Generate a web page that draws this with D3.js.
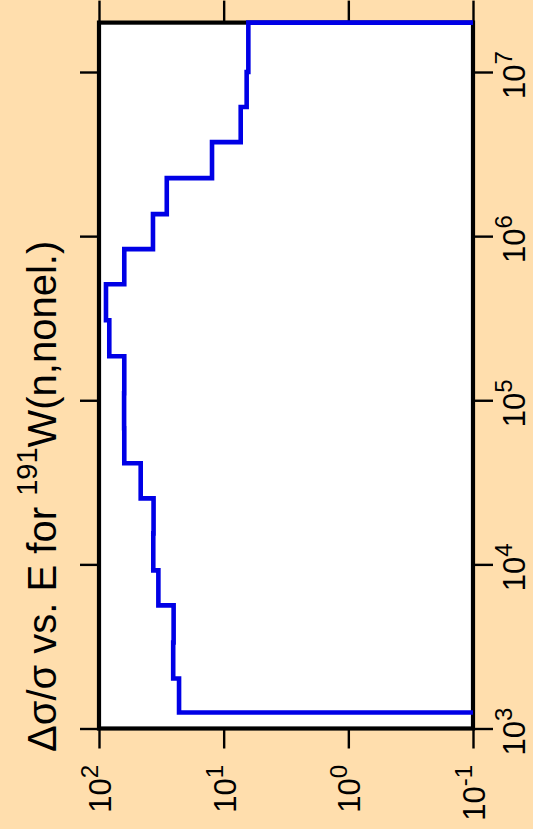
<!DOCTYPE html>
<html>
<head>
<meta charset="utf-8">
<script src="https://cdn.jsdelivr.net/npm/d3@7"></script>
<style>
  html, body { margin: 0; padding: 0; background: #FFDEAD; }
  svg { display: block; }
  text { font-family: "Liberation Sans", Arial, Helvetica, sans-serif; fill: #000; }
</style>
</head>
<body>
<svg id="chart" width="533" height="829"></svg>
<script>
// Energy bin edges (eV) and relative uncertainty per bin
const energyEdges = [1252, 2018, 3345, 5623, 9190, 15450, 25250, 41300, 67500, 110400,
                     185400, 307400, 509600, 833600, 1.362e6, 2.258e6, 3.74e6, 6.12e6, 1e7, 2e7];
const relUncertainty = [22.8, 25.4, 25.2, 33.4, 36.7, 36.5, 46.3, 62.7, 62.9, 62.7,
                        82.7, 87.9, 62.7, 36.9, 28.6, 12.4, 7.30, 6.54, 6.34];
const energyTicks = [1e3, 1e4, 1e5, 1e6, 1e7];
const energyTickExp = ["3", "4", "5", "6", "7"];
const valueTicks = [100, 10, 1, 0.1];
const valueTickExp = ["2", "1", "0", "-1"];
const titleParts = ["Δσ/σ vs. E for ", "191", "W(n,nonel.)"];

const svg = d3.select("#chart");
const W = 533, H = 829;
svg.append("rect").attr("width", W).attr("height", H).attr("fill", "#FFDEAD");

const pLeft = 99, pRight = 473, pTop = 22.6, pBottom = 728.5;

// Chart is rotated: energy runs vertically (up), Δσ/σ runs horizontally (decreasing to the right)
const y = d3.scaleLog().domain([1e3, 2e7]).range([pBottom, pTop]);
const x = d3.scaleLog().domain([100, 0.1]).range([pLeft, pRight]);

svg.append("rect")
  .attr("x", pLeft).attr("y", pTop)
  .attr("width", pRight - pLeft).attr("height", pBottom - pTop)
  .attr("fill", "#fff").attr("stroke", "#bbb").attr("stroke-width", 1);

// Axes (ticks only, labels drawn separately as rotated text)
const tickW = 2.4;
const axL = svg.append("g").attr("transform", `translate(${pLeft},0)`)
  .call(d3.axisLeft(y).tickValues(energyTicks).tickSize(19).tickFormat(""));
const axR = svg.append("g").attr("transform", `translate(${pRight},0)`)
  .call(d3.axisRight(y).tickValues(energyTicks).tickSize(20).tickFormat(""));
const axT = svg.append("g").attr("transform", `translate(0,${pTop})`)
  .call(d3.axisTop(x).tickValues(valueTicks).tickSize(22).tickFormat(""));
const axB = svg.append("g").attr("transform", `translate(0,${pBottom})`)
  .call(d3.axisBottom(x).tickValues(valueTicks).tickSize(20).tickFormat(""));
[axL, axR, axT, axB].forEach(g => {
  g.select(".domain").remove();
  g.selectAll(".tick line").attr("stroke", "#000").attr("stroke-width", tickW);
});

// Step line
const pts = [];
pts.push([x.domain()[1], energyEdges[0]]);
relUncertainty.forEach((v, i) => {
  pts.push([v, energyEdges[i]]);
  pts.push([v, energyEdges[i + 1]]);
});
pts.push([x.domain()[1], energyEdges[energyEdges.length - 1]]);

svg.append("defs").append("clipPath").attr("id", "clip")
  .append("rect").attr("x", pLeft).attr("y", pTop - 3)
  .attr("width", pRight - pLeft).attr("height", pBottom - pTop + 3);

// Frame
svg.append("rect")
  .attr("x", pLeft).attr("y", pTop)
  .attr("width", pRight - pLeft).attr("height", pBottom - pTop)
  .attr("fill", "none").attr("stroke", "#000").attr("stroke-width", 4.2);

svg.append("path")
  .datum(pts)
  .attr("clip-path", "url(#clip)")
  .attr("fill", "none")
  .attr("stroke", "#0000e6")
  .attr("stroke-width", 4.6)
  .attr("stroke-linejoin", "miter")
  .attr("d", d3.line().x(d => x(d[0])).y(d => y(d[1])));

// Tick labels
const fs = 31, sfs = 24;
energyTicks.forEach((t, i) => {
  const tx = svg.append("text")
    .attr("transform", `translate(525,${y(t) + 3}) rotate(-90)`)
    .attr("text-anchor", "middle")
    .attr("font-size", fs);
  tx.append("tspan").text("10");
  tx.append("tspan").attr("font-size", sfs).attr("dy", -13).text(energyTickExp[i]);
});
valueTicks.forEach((t, i) => {
  const tx = svg.append("text")
    .attr("transform", `translate(${x(t) + 12},765) rotate(-90)`)
    .attr("text-anchor", "end")
    .attr("font-size", fs);
  tx.append("tspan").text("10");
  tx.append("tspan").attr("font-size", sfs).attr("dy", -13).text(valueTickExp[i]);
});

// Title
const title = svg.append("text")
  .attr("transform", `translate(56,752) rotate(-90)`)
  .attr("text-anchor", "start")
  .attr("font-size", 40);
title.append("tspan").text(titleParts[0]);
title.append("tspan").attr("font-size", 29).attr("dy", -19).text(titleParts[1]);
title.append("tspan").attr("dy", 19).text(titleParts[2]);
</script>
</body>
</html>
